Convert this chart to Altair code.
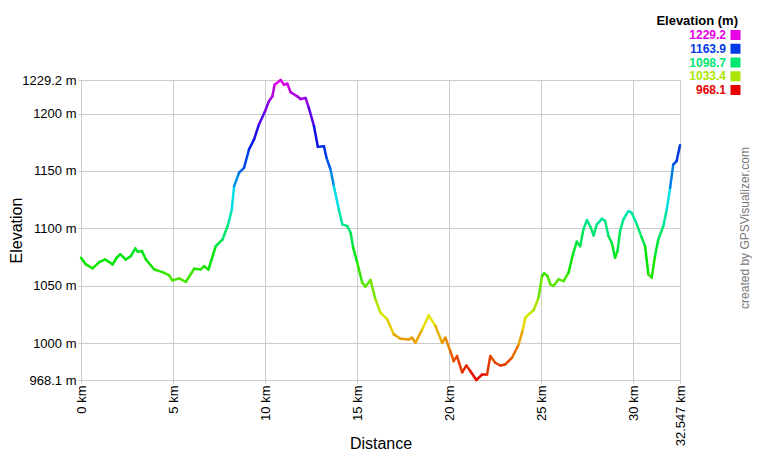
import altair as alt
import pandas as pd

dist_km = [0, 0.27, 0.63, 0.99, 1.32, 1.72, 1.94, 2.13, 2.44, 2.71, 2.95, 3.08, 3.31, 3.53, 3.98,
           4.43, 4.79, 4.97, 5.33, 5.70, 6.15, 6.51, 6.69, 6.93, 7.32, 7.69, 7.96, 8.04, 8.19, 8.32,
           8.59, 8.86, 9.13, 9.40, 9.67, 10.00, 10.21, 10.40, 10.52, 10.85, 11.03, 11.21, 11.39,
           11.75, 11.93, 12.20, 12.38, 12.66, 12.87, 13.20, 13.34, 13.56, 13.74, 14.01, 14.20,
           14.47, 14.65, 14.79, 15.01, 15.28, 15.46, 15.73, 16.00, 16.27, 16.64, 17.00, 17.36,
           17.81, 17.99, 18.17, 18.54, 18.89, 19.26, 19.62, 19.80, 20.07, 20.25, 20.43, 20.71,
           20.94, 21.16, 21.48, 21.79, 22.06, 22.24, 22.51, 22.78, 23.05, 23.42, 23.78, 24.01,
           24.14, 24.37, 24.60, 24.86, 25.05, 25.17, 25.35, 25.50, 25.67, 25.95, 26.22, 26.49,
           26.73, 26.94, 27.12, 27.30, 27.49, 27.70, 27.85, 28.03, 28.30, 28.48, 28.66, 28.84,
           29.02, 29.15, 29.29, 29.47, 29.74, 29.92, 30.20, 30.47, 30.65, 30.83, 31.01, 31.19,
           31.37, 31.64, 31.83, 32.01, 32.18, 32.36, 32.547]
elev_m = [1074.5, 1068.7, 1065.2, 1070.7, 1073.0, 1068.7, 1074.5, 1077.4, 1073.0, 1076.0, 1082.6,
          1079.7, 1080.3, 1073.0, 1064.3, 1062.0, 1059.1, 1054.8, 1056.5, 1053.6, 1064.9, 1064.3,
          1067.2, 1064.3, 1084.5, 1090.4, 1102.0, 1106.3, 1116.2, 1136.8, 1148.5, 1152.8, 1168.8,
          1177.4, 1190.5, 1202.0, 1210.7, 1215.1, 1225.1, 1229.2, 1225.1, 1226.0, 1218.5, 1215.0,
          1212.7, 1213.6, 1205.0, 1189.0, 1171.0, 1171.6, 1161.5, 1151.3, 1136.8, 1116.5, 1103.5,
          1102.0, 1096.3, 1083.2, 1070.2, 1052.8, 1049.4, 1055.1, 1038.2, 1026.7, 1020.8, 1007.8,
          1004.0, 1003.4, 1004.9, 1000.5, 1012.2, 1024.3, 1015.0, 1000.5, 1004.9, 993.1, 984.5,
          988.9, 974.8, 980.7, 975.7, 968.1, 972.8, 972.8, 988.9, 983.1, 980.7, 981.6, 987.5,
          999.0, 1012.2, 1022.3, 1025.8, 1029.0, 1039.8, 1058.6, 1060.9, 1058.6, 1051.4, 1049.9,
          1055.7, 1054.2, 1061.5, 1077.5, 1088.5, 1084.6, 1099.2, 1107.2, 1100.7, 1094.0, 1103.6,
          1108.4, 1106.4, 1093.4, 1087.6, 1074.6, 1080.3, 1097.7, 1107.8, 1115.0, 1113.7, 1103.6,
          1092.0, 1084.6, 1060.0, 1057.2, 1076.0, 1090.5, 1102.1, 1116.6, 1135.4, 1155.6, 1158.5,
          1172.4]

x_ticks = [0, 5, 10, 15, 20, 25, 30, 32.547]
y_ticks = [968.1, 1000, 1050, 1100, 1150, 1200, 1229.2]
legend_vals = [1229.2, 1163.9, 1098.7, 1033.4, 968.1]
legend_labels = ["1229.2", "1163.9", "1098.7", "1033.4", "968.1"]

color_stops = [968.1, 994.21, 1020.32, 1046.43, 1072.54, 1098.65, 1124.76, 1150.87, 1176.98,
               1203.09, 1229.2]
color_range = ["#e60000", "#e67300", "#e6e600", "#73e600", "#00e600", "#00e673", "#00e6e6",
               "#0066e6", "#0010e6", "#7300e6", "#e600e6"]

FONT = "Liberation Sans"

seg = pd.DataFrame({
    "x": dist_km[:-1], "x2": dist_km[1:],
    "y": elev_m[:-1], "y2": elev_m[1:],
})
seg["emid"] = (seg["y"] + seg["y2"]) / 2

cscale = alt.Scale(domain=color_stops, range=color_range, interpolate="rgb")

profile = alt.Chart(seg).mark_rule(strokeWidth=2.5, strokeCap="round").encode(
    x=alt.X("x:Q", scale=alt.Scale(domain=[0, 32.547], nice=False, zero=False),
            axis=alt.Axis(values=x_ticks, labelExpr="datum.value + ' km'", labelAngle=270,
                          title="Distance", titleFontSize=16, titleFontWeight="normal",
                          titleY=68, titleBaseline="alphabetic", titleColor="#000",
                          labelFontSize=13, labelColor="#000", labelFont=FONT, titleFont=FONT,
                          tickSize=3, labelPadding=2, tickColor="#ccc", domainColor="#ccc",
                          gridColor="#ccc", labelFlush=False, labelOverlap=False)),
    x2="x2:Q",
    y=alt.Y("y:Q", scale=alt.Scale(domain=[968.1, 1229.2], nice=False, zero=False),
            axis=alt.Axis(values=y_ticks, labelExpr="datum.value + ' m'",
                          title="Elevation", titleFontSize=16, titleFontWeight="normal",
                          titleAngle=270, titleX=-65, titleY=150, titleBaseline="middle",
                          titleAlign="center", titleColor="#000",
                          labelFontSize=13, labelColor="#000", labelFont=FONT, titleFont=FONT,
                          tickSize=3, labelPadding=2, tickColor="#ccc", domainColor="#ccc",
                          gridColor="#ccc", labelFlush=False, labelOverlap=False)),
    y2="y2:Q",
    color=alt.Color("emid:Q", scale=cscale, legend=None),
)

leg = pd.DataFrame({"idx": list(range(len(legend_vals))), "val": legend_vals, "label": legend_labels})
leg_y = alt.Y("idx:O", scale=alt.Scale(type="point", range=[-45, 10], padding=0), axis=None)

leg_text = alt.Chart(leg).mark_text(align="right", baseline="middle", fontWeight="bold",
                                    fontSize=12, font=FONT).encode(
    x=alt.value(645), y=leg_y, text="label:N",
    color=alt.Color("val:Q", scale=cscale, legend=None),
)
leg_sq = alt.Chart(leg).mark_square(size=100, opacity=1).encode(
    x=alt.value(654.5), y=leg_y,
    color=alt.Color("val:Q", scale=cscale, legend=None),
)
leg_title = alt.Chart(pd.DataFrame({"t": ["Elevation (m)"]})).mark_text(
    align="right", baseline="middle", fontWeight="bold", fontSize=13, font=FONT, color="#000"
).encode(x=alt.value(657), y=alt.value(-59), text="t:N")

credit = alt.Chart(pd.DataFrame({"t": ["created by GPSVisualizer.com"]})).mark_text(
    align="center", baseline="middle", angle=270, fontSize=12, font=FONT, color="#777"
).encode(x=alt.value(664), y=alt.value(148), text="t:N")

chart = alt.layer(profile, leg_text, leg_sq, leg_title, credit).resolve_scale(
    y="independent"
).properties(
    width=599, height=300,
    autosize=alt.AutoSizeParams(type="none"),
    padding={"left": 73, "top": 72, "right": 72, "bottom": 72},
).configure_view(stroke=None).configure(background="white")

chart.save("out.html", embed_options={"renderer": "svg", "actions": False})
